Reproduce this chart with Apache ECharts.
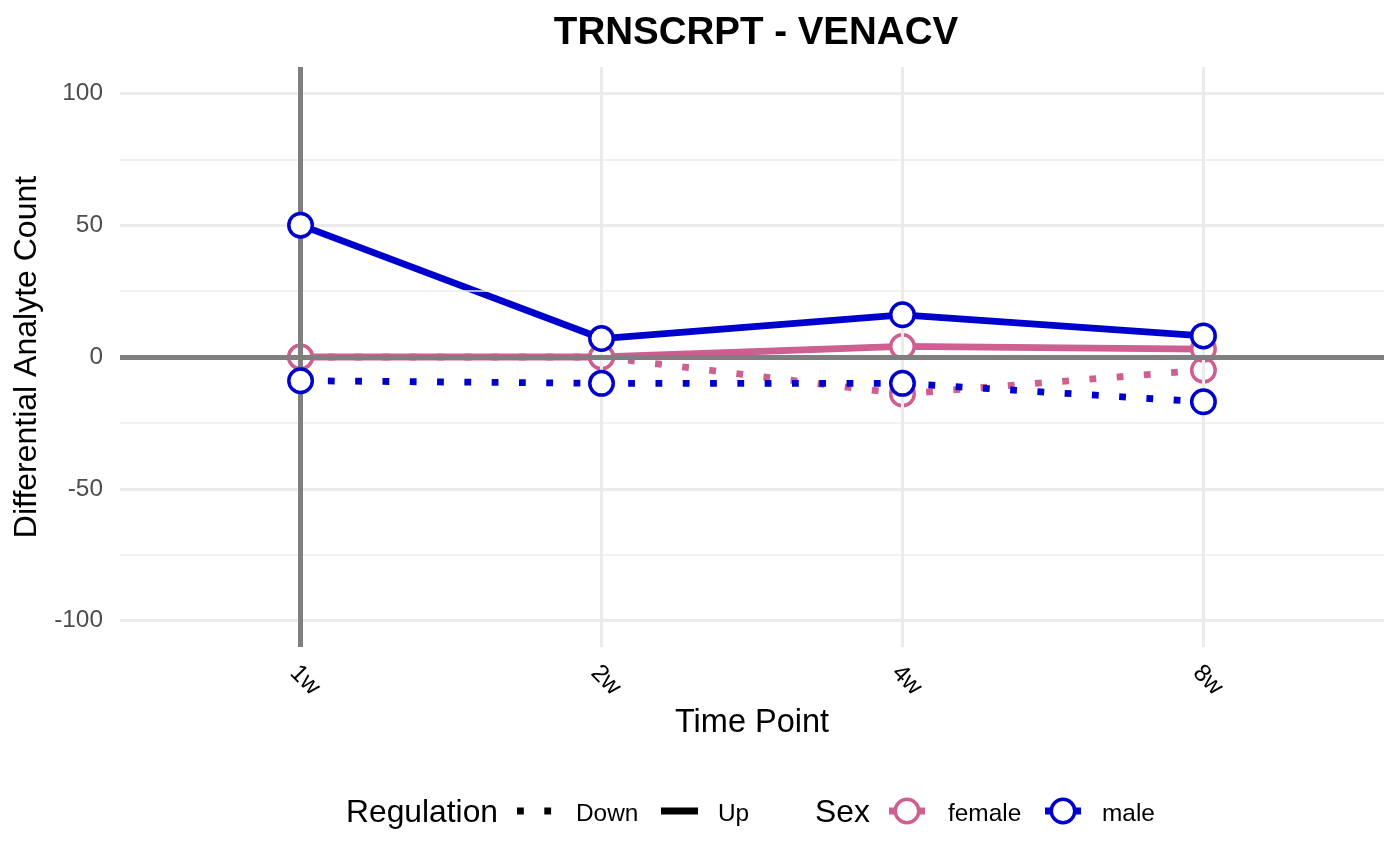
<!DOCTYPE html>
<html>
<head>
<meta charset="utf-8">
<script src="https://cdn.jsdelivr.net/npm/echarts@6/dist/echarts.min.js"></script>
<style>
html,body{margin:0;padding:0;background:#fff;}
#chart{width:1400px;height:865px;}
</style>
</head>
<body>
<div id="chart"></div>
<script>
const chartTitle = 'TRNSCRPT - VENACV';
const categories = ['1w', '2w', '4w', '8w'];
const femaleUp = [0, 0, 4, 3];
const femaleDown = [0, 0, -14, -5];
const maleUp = [50, 7, 16, 8];
const maleDown = [-9, -10, -10, -17];
const yMajorTicks = [-100, -50, 0, 50, 100];
const yMinorTicks = [-75, -25, 25, 75];
const refVlineCategory = '1w';
const refHlineValue = 0;

const FONT = "'Liberation Sans', Arial, Helvetica, sans-serif";
const FEMALE = '#CD6090';
const MALE = '#0000CD';
const GRID = '#EBEBEB';
const REF = '#7F7F7F';
const LW = 6.8;
const DOT = [6.8, 20.5];

function pts(arr) { return arr.map((v, i) => [i, v]); }

function lineSeries(name, arr, color, dotted) {
  return {
    name: name, type: 'line', data: pts(arr), z: 3, silent: true,
    symbol: 'none', showSymbol: false,
    lineStyle: { color: color, width: LW, type: dotted ? DOT : 'solid', cap: 'butt' },
    emphasis: { disabled: true }, animation: false
  };
}
function pointSeries(name, arr, color, z) {
  return {
    name: name, type: 'scatter', data: pts(arr), z: z, silent: true,
    symbol: 'circle', symbolSize: 23.5,
    itemStyle: { color: '#ffffff', borderColor: color, borderWidth: 3.5, opacity: 1 },
    emphasis: { disabled: true }, animation: false
  };
}

const gridLines = [];
yMajorTicks.forEach(v => gridLines.push({ yAxis: v, lineStyle: { color: GRID, width: 3, type: 'solid' } }));
yMinorTicks.forEach(v => gridLines.push({ yAxis: v, lineStyle: { color: GRID, width: 1.6, type: 'solid' } }));
categories.forEach((c, i) => gridLines.push({ xAxis: i, lineStyle: { color: GRID, width: 3, type: 'solid' } }));

const refLines = [
  { xAxis: categories.indexOf(refVlineCategory), lineStyle: { color: REF, width: 5, type: 'solid' } },
  { yAxis: refHlineValue, lineStyle: { color: REF, width: 5, type: 'solid' } }
];

function markLineSeries(lines, z) {
  return {
    type: 'line', data: [], z: z, silent: true, animation: false,
    markLine: {
      silent: true, animation: false, symbol: ['none', 'none'],
      label: { show: false }, emphasis: { disabled: true },
      data: lines
    }
  };
}

// Legend layout (custom graphic, ggplot style)
const LY = 811;
const legendGraphics = [
  { type: 'text', left: 346, top: LY - 14, style: { text: 'Regulation', font: "31.8px " + FONT, fill: '#000' } },
  { type: 'line', shape: { x1: 517, y1: LY, x2: 556, y2: LY }, style: { stroke: '#000', lineWidth: LW, lineDash: DOT, lineCap: 'butt' } },
  { type: 'text', left: 576, top: LY - 9, style: { text: 'Down', font: "24.4px " + FONT, fill: '#000' } },
  { type: 'line', shape: { x1: 661, y1: LY, x2: 698, y2: LY }, style: { stroke: '#000', lineWidth: LW, lineCap: 'butt' } },
  { type: 'text', left: 718, top: LY - 9, style: { text: 'Up', font: "24.4px " + FONT, fill: '#000' } },
  { type: 'text', left: 815, top: LY - 14, style: { text: 'Sex', font: "31.8px " + FONT, fill: '#000' } },
  { type: 'line', shape: { x1: 889, y1: LY, x2: 925, y2: LY }, style: { stroke: FEMALE, lineWidth: LW, lineCap: 'butt' } },
  { type: 'circle', shape: { cx: 907, cy: LY, r: 11.75 }, style: { fill: '#fff', stroke: FEMALE, lineWidth: 3.5 } },
  { type: 'text', left: 948, top: LY - 9, style: { text: 'female', font: "24.4px " + FONT, fill: '#000' } },
  { type: 'line', shape: { x1: 1045, y1: LY, x2: 1081, y2: LY }, style: { stroke: MALE, lineWidth: LW, lineCap: 'butt' } },
  { type: 'circle', shape: { cx: 1063, cy: LY, r: 11.75 }, style: { fill: '#fff', stroke: MALE, lineWidth: 3.5 } },
  { type: 'text', left: 1102, top: LY - 9, style: { text: 'male', font: "24.4px " + FONT, fill: '#000' } }
];

const chart = echarts.init(document.getElementById('chart'), null, { renderer: 'canvas' });
chart.setOption({
  animation: false,
  backgroundColor: '#ffffff',
  textStyle: { fontFamily: FONT },
  title: {
    text: chartTitle, left: 751, top: 9, textAlign: 'center',
    textStyle: { fontSize: 38.5, fontWeight: 'bold', color: '#000', fontFamily: FONT }
  },
  grid: { left: 120, right: 16, top: 67, bottom: 218, containLabel: false },
  xAxis: {
    type: 'value', min: -0.6, max: 3.6,
    axisLine: { show: false }, axisTick: { show: false }, splitLine: { show: false },
    axisLabel: {
      customValues: [0, 1, 2, 3],
      formatter: v => categories[Math.round(v)] || '',
      rotate: -45, align: 'center', verticalAlign: 'middle', margin: 29,
      padding: [0, 0, 0, 12],
      fontSize: 24.4, color: '#000', fontFamily: FONT
    },
    name: 'Time Point', nameLocation: 'middle', nameGap: 55,
    nameTextStyle: { fontSize: 32.5, color: '#000', fontFamily: FONT }
  },
  yAxis: {
    type: 'value', min: -110, max: 110,
    axisLine: { show: false }, axisTick: { show: false }, splitLine: { show: false },
    axisLabel: {
      customValues: yMajorTicks,
      fontSize: 24.4, color: '#4D4D4D', margin: 17, fontFamily: FONT,
      verticalAlign: 'middle', lineHeight: 24, padding: [8, 0, 0, 0]
    },
    name: 'Differential Analyte Count', nameLocation: 'middle', nameGap: 68,
    nameTextStyle: { fontSize: 32, color: '#000', fontFamily: FONT }
  },
  graphic: legendGraphics,
  series: [
    markLineSeries(gridLines, 1),
    markLineSeries(refLines, 2),
    lineSeries('female Down', femaleDown, FEMALE, true),
    lineSeries('female Up', femaleUp, FEMALE, false),
    lineSeries('male Down', maleDown, MALE, true),
    lineSeries('male Up', maleUp, MALE, false),
    pointSeries('female Down pts', femaleDown, FEMALE, 4),
    pointSeries('female Up pts', femaleUp, FEMALE, 4),
    pointSeries('male Down pts', maleDown, MALE, 5),
    pointSeries('male Up pts', maleUp, MALE, 5)
  ]
});
</script>
</body>
</html>
